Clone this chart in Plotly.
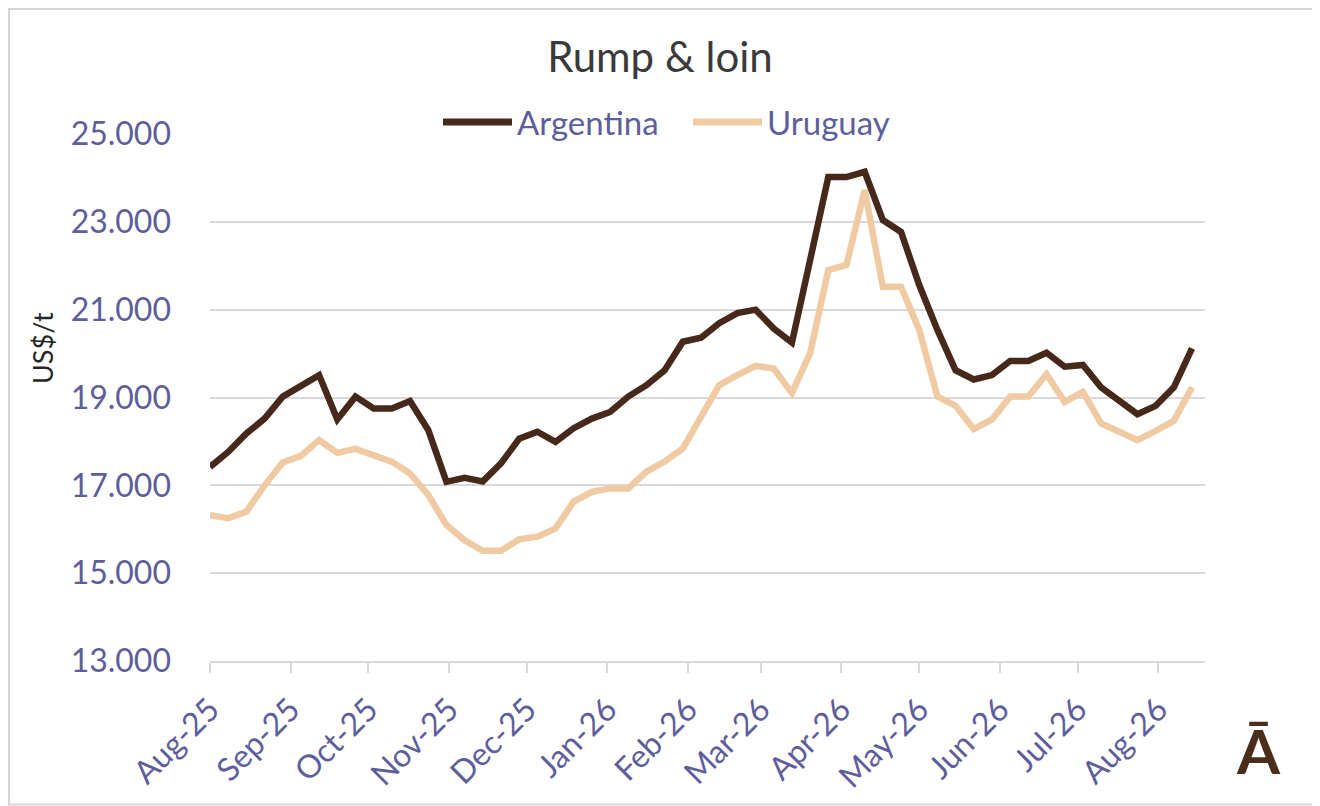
import pandas as pd
import plotly.graph_objects as go

# ---- data (weekly) ----
start_date = "2025-08-01"
n_weeks = 55
argentina = [17420, 17760, 18180, 18520, 19020, 19260, 19510, 18500, 19020, 18750,
             18750, 18920, 18260, 17080, 17170, 17090, 17500, 18060, 18220, 17990,
             18300, 18520, 18670, 19020, 19280, 19620, 20270, 20360, 20690, 20920,
             21000, 20570, 20250, 22130, 24020, 24020, 24140, 23040, 22770, 21560,
             20540, 19620, 19410, 19510, 19830, 19830, 20020, 19700, 19740, 19230,
             18930, 18620, 18810, 19230, 20120]
uruguay = [16320, 16250, 16400, 17000, 17520, 17670, 18030, 17740, 17830, 17690,
           17540, 17270, 16780, 16100, 15750, 15510, 15510, 15770, 15830, 16020,
           16630, 16850, 16930, 16930, 17310, 17540, 17840, 18560, 19280, 19510,
           19720, 19660, 19100, 20010, 21900, 22020, 23720, 21520, 21520, 20540,
           19020, 18810, 18280, 18500, 19020, 19020, 19530, 18900, 19130, 18410,
           18220, 18030, 18240, 18470, 19230]
series_names = ["Argentina", "Uruguay"]
y_ticks = [13000, 15000, 17000, 19000, 21000, 23000, 25000]

dates = pd.date_range(start_date, periods=n_weeks, freq="7D")

C_ARG = "#46291A"
C_URU = "#EFCAA2"
TICK_C = "#5E5E9C"
FONT = "Lato"

# page is offset by the 8px body margin
OFF = 8
W, H = 1320 - OFF, 806 - OFF

fig = go.Figure()
fig.add_trace(go.Scatter(x=dates, y=argentina, mode="lines", name=series_names[0],
                         line=dict(color=C_ARG, width=6.5), showlegend=False))
fig.add_trace(go.Scatter(x=dates, y=uruguay, mode="lines", name=series_names[1],
                         line=dict(color=C_URU, width=6.5), showlegend=False))

fig.update_layout(
    width=W, height=H,
    margin=dict(l=210 - OFF, r=W - (1205 - OFF), t=134 - OFF, b=H - (661 - OFF)),
    paper_bgcolor="white", plot_bgcolor="white",
    separators=",.",
    font=dict(family=FONT, color=TICK_C),
    title=dict(text="Rump & loin", x=(660 - OFF) / W, xref="container", xanchor="center",
               y=1 - (57 - OFF) / H, yref="container", yanchor="middle",
               font=dict(family=FONT, size=42, color="#3A3A3A")),
)

fig.update_xaxes(
    type="date", range=["2025-08-01", "2026-08-19"],
    tick0="2025-08-01", dtick="M1", tickformat="%b-%y",
    tickangle=-45, ticks="outside", ticklen=10, tickcolor="#D9D9D9", tickwidth=2,
    showline=True, linecolor="#D9D9D9", linewidth=2,
    showgrid=False, zeroline=False,
    tickfont=dict(family=FONT, size=32, color=TICK_C),
    ticklabelstandoff=5,
)
fig.update_yaxes(
    range=[13000, 25000], tickvals=y_ticks, tickformat=",d",
    showgrid=True, gridcolor="#DCD8DA", gridwidth=2,
    showline=False, zeroline=False, ticks="",
    tickfont=dict(family=FONT, size=32, color=TICK_C),
    ticklabelstandoff=38,
)

def px_x(px):
    return (px - 210) / 995

def px_y(py):
    return (661 - py) / 527

# custom legend
leg_y = px_y(122)
for (x0, x1, tx, name, col) in [(443, 512, 515, series_names[0], C_ARG),
                                (693, 762, 765, series_names[1], C_URU)]:
    fig.add_shape(type="line", xref="paper", yref="paper",
                  x0=px_x(x0), x1=px_x(x1), y0=leg_y, y1=leg_y,
                  line=dict(color=col, width=7))
    fig.add_annotation(text=name, xref="paper", yref="paper", x=px_x(tx), y=leg_y,
                       xanchor="left", yanchor="middle", showarrow=False,
                       font=dict(family=FONT, size=33, color=TICK_C))

# y-axis title
fig.add_annotation(text="US$/t", xref="paper", yref="paper", x=px_x(42), y=px_y(348),
                   textangle=-90, showarrow=False, xanchor="center", yanchor="middle",
                   font=dict(family=FONT, size=27, color="#262626"))

# logo
fig.add_annotation(text="<b>Ā</b>", xref="paper", yref="paper", x=px_x(1258), y=px_y(750),
                   showarrow=False, xanchor="center", yanchor="middle",
                   font=dict(family=FONT, size=62, color="#4A2E1B"))

# outer border
fig.add_shape(type="rect", xref="paper", yref="paper",
              x0=px_x(OFF + 1), x1=px_x(1318.5), y0=px_y(804.5), y1=px_y(OFF + 1),
              line=dict(color="#D9D4D6", width=2), layer="below")

fig.write_html("out.html")
